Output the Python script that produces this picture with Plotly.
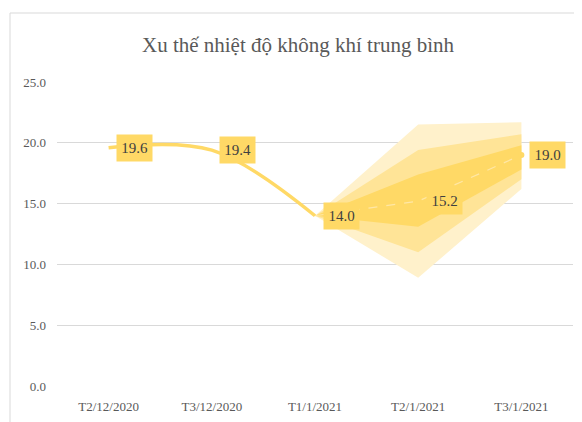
import plotly.graph_objects as go

categories = ["T2/12/2020", "T3/12/2020", "T1/1/2021", "T2/1/2021", "T3/1/2021"]
actual = [19.6, 19.4, 14.0]
forecast = [14.0, 15.2, 19.0]
forecast_cats = categories[2:]

outer_upper = [14.0, 21.5, 21.7]
outer_lower = [14.0, 8.9, 16.2]
mid_upper = [14.0, 19.4, 20.7]
mid_lower = [14.0, 11.0, 17.0]
inner_upper = [14.0, 17.4, 19.8]
inner_lower = [14.0, 13.1, 17.8]

title_text = "Xu thế nhiệt độ không khí trung bình"
y_ticks = [0, 5, 10, 15, 20, 25]

SERIF = "Times New Roman, Liberation Serif, serif"
GOLD = "#FFD966"

# page body has an 8px margin; figure is sized to fill the rest of the window
W, H = 574, 414
L, R, T, B = 49, 9, 74, 36
PW, PH = W - L - R, H - T - B

fig = go.Figure()

def band(upper, lower, color):
    xs = list(forecast_cats) + list(reversed(forecast_cats))
    ys = list(upper) + list(reversed(lower))
    fig.add_trace(go.Scatter(x=xs, y=ys, fill="toself", fillcolor=color,
                             line=dict(width=0), mode="lines",
                             hoverinfo="skip", showlegend=False))

band(outer_upper, outer_lower, "#FFF1CB")
band(mid_upper, mid_lower, "#FFE497")
band(inner_upper, inner_lower, GOLD)

fig.add_trace(go.Scatter(x=forecast_cats, y=forecast, mode="lines",
                         line=dict(color="#FFE7A6", width=1.2, dash="dash"),
                         showlegend=False))
fig.add_trace(go.Scatter(x=categories[:3], y=actual, mode="lines",
                         line=dict(color=GOLD, width=3.5, shape="spline", smoothing=1),
                         showlegend=False))
fig.add_trace(go.Scatter(x=[forecast_cats[-1]], y=[forecast[-1]], mode="markers",
                         marker=dict(color=GOLD, size=6), showlegend=False))

labels_x = categories[:3] + forecast_cats[1:]
labels_y = actual + forecast[1:]
for cx, cy in zip(labels_x, labels_y):
    fig.add_annotation(x=cx, y=cy, xref="x", yref="y", text=f"{cy:.1f}",
                       showarrow=False, xshift=26, bgcolor=GOLD, borderpad=4,
                       width=27, height=18,
                       font=dict(family=SERIF, size=15, color="#404040"))

# chart frame
fig.add_shape(type="rect", xref="paper", yref="paper",
              x0=(2 - L) / PW, x1=1.2, y0=-0.3, y1=(H - B - 5) / PH,
              line=dict(color="#D9D9D9", width=1), layer="below")

fig.update_layout(
    width=W, height=H,
    margin=dict(l=L, r=R, t=T, b=B),
    paper_bgcolor="white", plot_bgcolor="white",
    font=dict(family=SERIF),
    title=dict(text=title_text, x=290 / W, xanchor="center", xref="container",
               y=1 - 37 / H, yanchor="middle", yref="container",
               font=dict(family=SERIF, size=21, color="#595959")),
    xaxis=dict(type="category", categoryorder="array", categoryarray=categories,
               range=[-0.5, 4.5], showgrid=False, showline=False, zeroline=False,
               tickfont=dict(family=SERIF, size=13, color="#595959"),
               ticks="", ticklabelstandoff=11),
    yaxis=dict(range=[0, 25], tickvals=y_ticks, ticktext=[f"{v:.1f}" for v in y_ticks],
               showgrid=True, gridcolor="#D9D9D9", gridwidth=1, zeroline=False,
               showline=False, ticks="", ticklabelstandoff=10,
               tickfont=dict(family=SERIF, size=13, color="#595959")),
)

fig.write_html("out.html")
